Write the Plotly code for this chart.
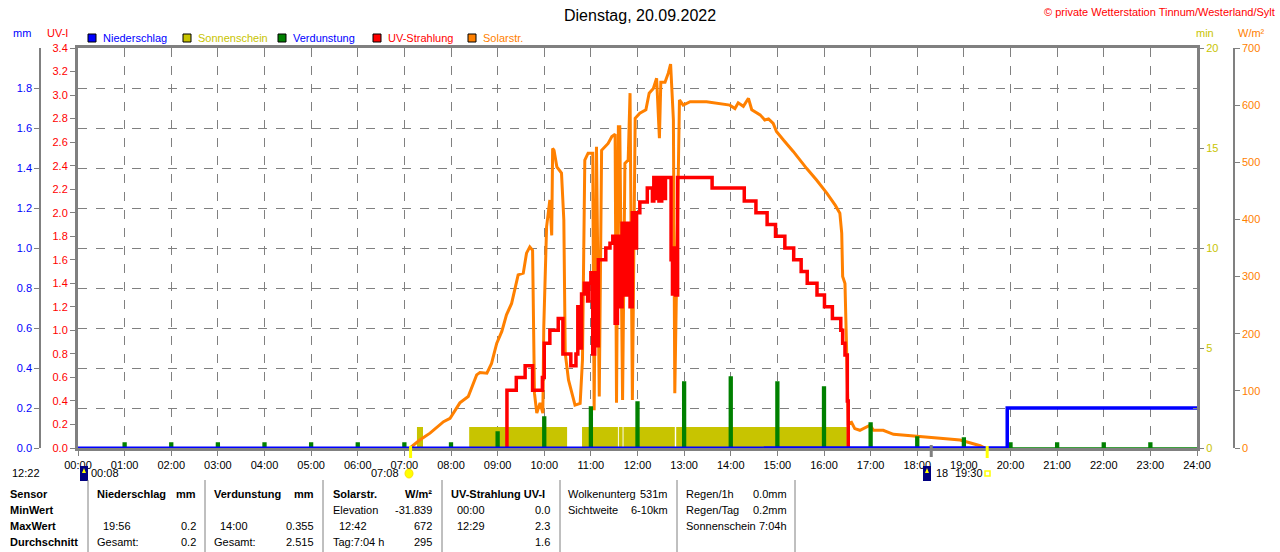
import plotly.graph_objects as go

W, H = 1280, 552
FONT = "Liberation Sans"

# pixel -> paper helpers (margins are 0, so paper == whole figure)
def fx(p):
    return p / W

def fy(p):
    return 1 - p / H

hours = list(range(25))
hour_labels = ["%02d:00" % h for h in hours]

# Sonnenschein (min) - intervals with sunshine
sun_start = [7.27, 8.39, 10.81, 11.60, 11.70, 12.83]
sun_end = [7.40, 10.49, 11.58, 11.68, 12.80, 16.49]
sun_min = [1.05, 1.05, 1.05, 1.05, 1.05, 1.05]

# Verdunstung (mm) per hour
verd_time = [1, 2, 3, 4, 5, 6, 7, 8, 9, 10, 11, 12, 13, 14, 15, 16, 17, 18, 19, 20, 21, 22, 23]
verd_mm = [0.025, 0.025, 0.025, 0.025, 0.025, 0.025, 0.025, 0.025, 0.08, 0.155, 0.205, 0.23,
           0.33, 0.355, 0.33, 0.305, 0.125, 0.055, 0.05, 0.025, 0.025, 0.025, 0.025]

# Niederschlag (mm): thin line for the early part, thick from 14:42
prec_time = [0, 14.7]
prec_mm = [0, 0]
prec2_time = [14.7, 19.93, 19.93, 24]
prec2_mm = [0, 0, 0.2, 0.2]

# UV-Strahlung (UV-I), step values
uv_time = [9.18, 9.20, 9.40, 9.59, 9.75, 9.96, 10.0, 10.12, 10.30, 10.40, 10.57, 10.68, 10.72, 10.76,
           10.80, 10.86, 10.93, 10.96, 11.00, 11.04, 11.08, 11.12, 11.16, 11.32, 11.41, 11.47,
           11.52, 11.57, 11.62, 11.67, 11.72, 11.78, 11.84, 11.89, 11.94, 11.98, 12.05, 12.21,
           12.32, 12.35, 12.38, 12.41, 12.46, 12.52, 12.56, 12.60, 12.72, 12.75, 12.78, 12.82,
           12.86, 13.60, 14.29, 14.54, 14.78, 14.96, 15.16, 15.35, 15.51, 15.64, 15.85, 16.01,
           16.18, 16.36, 16.40, 16.45, 16.50, 16.52, 16.56]
uv_val = [0, 0.49, 0.60, 0.70, 0.49, 0.60, 0.89, 1.0, 1.1, 0.80, 0.70, 0.80, 1.2, 0.85,
          1.31, 1.4, 1.25, 1.4, 1.49, 0.80, 1.49, 0.87, 1.6, 1.7, 1.74, 1.8,
          1.06, 1.8, 1.2, 1.91, 1.3, 1.91, 1.2, 2.0, 1.7, 2.0, 2.09, 2.21,
          2.10, 2.30, 2.12, 2.30, 2.10, 2.30, 2.12, 2.30, 1.6, 1.31, 1.7, 1.3,
          2.3, 2.21, 2.1, 2.0, 1.9, 1.8, 1.7, 1.6, 1.5, 1.4, 1.3, 1.2,
          1.1, 1.0, 0.89, 0.79, 0.4, 0.0, 0.0]

# Solarstrahlung (W/m2)
sol_time = [7.12, 7.33, 7.55, 7.62, 7.84, 7.98, 8.09, 8.19, 8.37, 8.55, 8.62, 8.77, 8.87, 8.98,
            9.09, 9.19, 9.30, 9.37, 9.44, 9.55, 9.62, 9.69, 9.75, 9.79, 9.84, 9.91, 9.97, 9.99,
            10.05, 10.12, 10.16, 10.18, 10.21, 10.27, 10.37, 10.42, 10.45, 10.52, 10.59, 10.66,
            10.77, 10.82, 10.87, 10.94, 11.04, 11.07, 11.12, 11.18, 11.23, 11.37, 11.45, 11.52,
            11.55, 11.59, 11.62, 11.68, 11.73, 11.80, 11.84, 11.89, 11.95, 12.05, 12.18, 12.25,
            12.34, 12.41, 12.47, 12.50, 12.59, 12.66, 12.71, 12.77, 12.80, 12.84, 12.90, 12.98,
            13.13, 13.48, 13.98, 14.09, 14.16, 14.27, 14.38, 14.45, 14.63, 14.73, 14.81, 14.91,
            14.98, 15.13, 15.34, 15.63, 15.84, 16.06, 16.24, 16.34, 16.38, 16.40, 16.45, 16.49,
            16.52, 16.59, 16.66, 16.77, 16.99, 17.06, 17.27, 17.49, 17.99, 18.49, 18.92, 19.35,
            19.45]
sol_val = [0, 14, 26, 31, 46, 52, 66, 79, 90, 128, 132, 131, 148, 183,
           204, 233, 253, 276, 303, 306, 341, 352, 346, 96, 61, 79, 61, 212,
           387, 434, 372, 524, 521, 492, 481, 399, 166, 119, 96, 75,
           78, 154, 504, 516, 516, 66, 527, 90, 521, 533, 545, 549,
           79, 562, 562, 84, 498, 504, 621, 84, 577, 586, 592, 621,
           629, 647, 542, 640, 640, 656, 672, 574, 96, 329, 609, 600,
           606, 606, 600, 594, 604, 598, 612, 592, 583, 574, 576, 568,
           554, 539, 519, 489, 469, 446, 425, 411, 376, 300, 288, 154,
           43, 45, 34, 31, 40, 31, 31, 24, 21, 17, 14, 4,
           0]

# sun / moon markers (hours)
marker_hours = [7.133, 19.5]
moon_hours = [18.3]

# evaporation as thin spikes on a zero line
spike_half = 0.03
verd_x = [0]
verd_y = [0]
for t, v in zip(verd_time, verd_mm):
    verd_x += [t - spike_half, t - spike_half, t + spike_half, t + spike_half]
    verd_y += [0, v, v, 0]
verd_x.append(24)
verd_y.append(0)

fig = go.Figure()

fig.add_trace(go.Bar(
    x=[(a + b) / 2 for a, b in zip(sun_start, sun_end)],
    y=sun_min, width=[b - a for a, b in zip(sun_start, sun_end)],
    marker=dict(color="#C8C400", line=dict(width=0)), yaxis="y", name="Sonnenschein"))
fig.add_trace(go.Scatter(
    x=sol_time, y=sol_val, mode="lines", line=dict(color="#FF8000", width=3),
    yaxis="y2", name="Solarstr."))
fig.add_trace(go.Scatter(
    x=uv_time, y=uv_val, mode="lines", line=dict(color="#FF0000", width=3.5, shape="hv"),
    yaxis="y3", name="UV-Strahlung"))
fig.add_trace(go.Scatter(
    x=verd_x, y=verd_y, mode="lines", line=dict(color="#008000", width=1.5),
    fill="tozeroy", fillcolor="#008000", yaxis="y4", name="Verdunstung"))
fig.add_trace(go.Scatter(
    x=prec_time, y=prec_mm, mode="lines", line=dict(color="#0000FF", width=3),
    yaxis="y4", name="Niederschlag"))
fig.add_trace(go.Scatter(
    x=prec2_time, y=prec2_mm, mode="lines", line=dict(color="#0000FF", width=3.5),
    yaxis="y4", name="Niederschlag"))

tickfont = dict(family=FONT, size=11)
grey = "#808080"
ydom = [fy(448), fy(48)]

fig.update_layout(
    template="none",
    width=W, height=H,
    margin=dict(l=0, r=0, t=0, b=0),
    paper_bgcolor="white", plot_bgcolor="white",
    showlegend=False, barmode="overlay", hovermode=False,
    font=dict(family=FONT, size=11, color="black"),
    xaxis=dict(domain=[fx(78), fx(1197)], range=[0, 24], tickvals=hours, ticktext=hour_labels,
               ticks="outside", ticklen=5, tickcolor=grey, tickfont=tickfont,
               showgrid=True, gridcolor=grey, griddash="dash", gridwidth=1,
               showline=True, linecolor=grey, linewidth=3, mirror=True, layer="below traces",
               zeroline=False, automargin=False, fixedrange=True),
    yaxis=dict(domain=ydom, range=[0, 20], side="right", tickvals=[0, 5, 10, 15, 20],
               ticks="outside", ticklen=4, tickcolor=grey,
               tickfont=dict(family=FONT, size=11, color="#C8C400"),
               showgrid=False, showline=True, linecolor=grey, linewidth=3,
               zeroline=False, automargin=False),
    yaxis2=dict(overlaying="y", anchor="free", position=fx(1234), side="right",
                range=[0, 700], dtick=100, ticks="outside", ticklen=5, tickcolor=grey,
                tickfont=dict(family=FONT, size=11, color="#FF8000"),
                showgrid=False, showline=True, linecolor=grey, linewidth=1.5,
                zeroline=False, automargin=False),
    yaxis3=dict(overlaying="y", anchor="x", side="left", range=[0, 3.4], dtick=0.2,
                tickformat=".1f", ticks="outside", ticklen=5, tickcolor=grey,
                tickfont=dict(family=FONT, size=11, color="#FF0000"),
                showgrid=False, showline=True, linecolor=grey, linewidth=3,
                zeroline=False, automargin=False),
    yaxis4=dict(overlaying="y", anchor="free", position=fx(40), side="left", range=[0, 2.0],
                tickvals=[0, 0.2, 0.4, 0.6, 0.8, 1.0, 1.2, 1.4, 1.6, 1.8], tickformat=".1f",
                ticks="outside", ticklen=5, tickcolor=grey,
                tickfont=dict(family=FONT, size=11, color="#0000FF"),
                showgrid=True, gridcolor=grey, griddash="dash", gridwidth=1,
                showline=True, linecolor=grey, linewidth=1.5,
                zeroline=False, automargin=False),
    yaxis5=dict(overlaying="y", anchor="x", side="right", range=[0, 2.0], dtick=0.2,
                ticks="inside", ticklen=4, tickcolor=grey, showticklabels=False,
                showgrid=False, showline=False, zeroline=False, automargin=False),
)
# dummy trace so yaxis5 is drawn
fig.add_trace(go.Scatter(x=[0], y=[0], mode="markers", marker=dict(opacity=0), yaxis="y5",
                         hoverinfo="skip"))

ann = []
shapes = []

def txt(x, y, s, anchor="left", color="black", size=11):
    ann.append(dict(x=fx(x), y=fy(y), xref="paper", yref="paper", text=s, showarrow=False,
                    xanchor=anchor, yanchor="middle",
                    font=dict(family=FONT, size=size, color=color)))

# title and copyright
txt(640, 15, "Dienstag, 20.09.2022", "center", "black", 16)
txt(1277, 12, "© private Wetterstation Tinnum/Westerland/Sylt", "right", "#FF0000", 11)

# axis titles
txt(22, 33, "mm", "center", "#0000FF")
txt(57, 33, "UV-I", "center", "#FF0000")
txt(1205, 33, "min", "center", "#C8C400")
txt(1251, 33, "W/m²", "center", "#FF8000")

# legend
legend_items = [("Niederschlag", "#0000FF", "#0000FF"),
                ("Sonnenschein", "#C8C400", "#C8C400"),
                ("Verdunstung", "#008000", "#0000FF"),
                ("UV-Strahlung", "#FF0000", "#FF0000"),
                ("Solarstr.", "#FF8000", "#FF8000")]
legend_x = [88, 183, 278, 373, 468]
for (name, box, tcol), lx in zip(legend_items, legend_x):
    shapes.append(dict(type="rect", xref="paper", yref="paper", x0=fx(lx), x1=fx(lx + 8),
                       y0=fy(42), y1=fy(34), fillcolor=box, line=dict(color="black", width=1)))
    txt(lx + 13, 38, name, "left", tcol)

# sunrise / sunset / moon markers below the time axis
for h in marker_hours:
    shapes.append(dict(type="line", xref="x", yref="paper", x0=h, x1=h, y0=fy(458), y1=fy(446),
                       line=dict(color="#FFFF00", width=3)))
for h in moon_hours:
    shapes.append(dict(type="line", xref="x", yref="paper", x0=h, x1=h, y0=fy(457), y1=fy(445),
                       line=dict(color=grey, width=3)))

txt(10, 473, "12:22", "left")
shapes.append(dict(type="path", xref="paper", yref="paper",
                   path="M %f %f A 1 1 0 0 1 %f %f Z" % (fx(40), fy(477), fx(48), fy(477)),
                   fillcolor="#FFFF00", line=dict(color="#E0E000", width=1)))
for mx in [80, 923]:
    shapes.append(dict(type="rect", xref="paper", yref="paper", x0=fx(mx), x1=fx(mx + 8),
                       y0=fy(481), y1=fy(466), fillcolor="#000080", line=dict(width=0)))
    shapes.append(dict(type="path", xref="paper", yref="paper",
                       path="M %f %f L %f %f L %f %f Z" % (fx(mx + 2), fy(473), fx(mx + 6), fy(473),
                                                          fx(mx + 4), fy(468)),
                       fillcolor="#FFFF00", line=dict(width=0)))
txt(89, 473, "00:08", "left")
txt(401, 473, "07:08", "right")
shapes.append(dict(type="circle", xref="paper", yref="paper", x0=fx(405), x1=fx(413),
                   y0=fy(478), y1=fy(469), fillcolor="#FFFF00", line=dict(color="#FFE000", width=1)))
txt(934, 473, "18", "left")
txt(953, 473, "19:30", "left")
shapes.append(dict(type="rect", xref="paper", yref="paper", x0=fx(985), x1=fx(990),
                   y0=fy(476), y1=fy(471), line=dict(color="#FFFF00", width=1.5)))

# statistics table
row_y = [494, 510, 526, 542]
for label, ry in zip(["Sensor", "MinWert", "MaxWert", "Durchschnitt"], row_y):
    txt(8, ry, "<b>%s</b>" % label)

for sx in [88, 205, 323, 442, 560, 677, 795]:
    shapes.append(dict(type="line", xref="paper", yref="paper", x0=fx(sx), x1=fx(sx),
                       y0=fy(480), y1=fy(552), line=dict(color=grey, width=1)))

# Niederschlag
txt(95, 494, "<b>Niederschlag</b>")
txt(198, 494, "<b>mm</b>", "right")
txt(101, 526, "19:56")
txt(198, 526, "0.2", "right")
txt(95, 542, "Gesamt:")
txt(198, 542, "0.2", "right")
# Verdunstung
txt(212, 494, "<b>Verdunstung</b>")
txt(316, 494, "<b>mm</b>", "right")
txt(218, 526, "14:00")
txt(316, 526, "0.355", "right")
txt(212, 542, "Gesamt:")
txt(316, 542, "2.515", "right")
# Solarstr.
txt(331, 494, "<b>Solarstr.</b>")
txt(434, 494, "<b>W/m²</b>", "right")
txt(331, 510, "Elevation")
txt(434, 510, "-31.839", "right")
txt(337, 526, "12:42")
txt(434, 526, "672", "right")
txt(331, 542, "Tag:7:04 h")
txt(434, 542, "295", "right")
# UV
txt(449, 494, "<b>UV-Strahlung UV-I</b>")
txt(455, 510, "00:00")
txt(552, 510, "0.0", "right")
txt(455, 526, "12:29")
txt(552, 526, "2.3", "right")
txt(552, 542, "1.6", "right")
# Wolken
txt(566, 494, "Wolkenunterg")
txt(670, 494, "531m", "right")
txt(566, 510, "Sichtweite")
txt(670, 510, "6-10km", "right")
# Regen
txt(684, 494, "Regen/1h")
txt(789, 494, "0.0mm", "right")
txt(684, 510, "Regen/Tag")
txt(789, 510, "0.2mm", "right")
txt(684, 526, "Sonnenschein")
txt(789, 526, "7:04h", "right")

fig.update_layout(annotations=ann, shapes=shapes)
# page body margin would shift the chart by 8px
fig.write_html("out.html", config={"displayModeBar": False},
               post_script="document.body.style.margin='0';")
